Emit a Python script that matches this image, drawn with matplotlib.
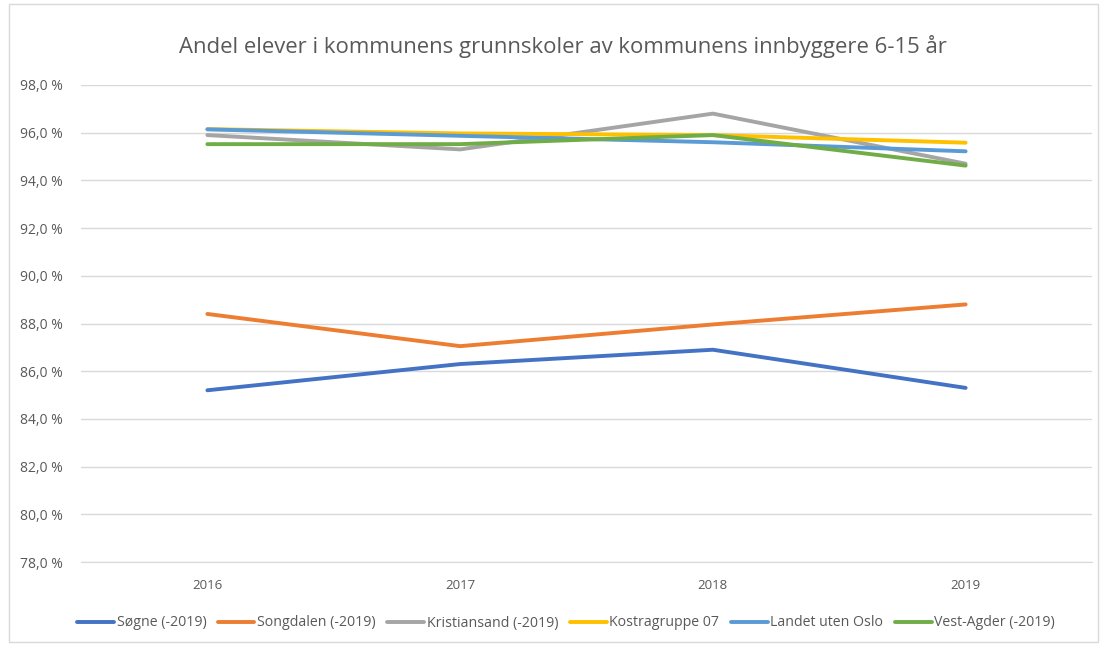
import matplotlib
matplotlib.use("Agg")
import matplotlib.pyplot as plt
from matplotlib.ticker import FuncFormatter
from matplotlib.patches import Rectangle

years = ["2016", "2017", "2018", "2019"]
sogne = [85.2, 86.3, 86.9, 85.3]
songdalen = [88.4, 87.05, 87.96, 88.8]
kristiansand = [95.9, 95.3, 96.8, 94.7]
kostra07 = [96.15, 95.97, 95.9, 95.58]
landet = [96.14, 95.87, 95.6, 95.22]
vestagder = [95.52, 95.52, 95.9, 94.62]

series = [
    ("Søgne (-2019)", sogne, "#4472C4"),
    ("Songdalen (-2019)", songdalen, "#ED7D31"),
    ("Kristiansand (-2019)", kristiansand, "#A5A5A5"),
    ("Kostragruppe 07", kostra07, "#FFC000"),
    ("Landet uten Oslo", landet, "#5B9BD5"),
    ("Vest-Agder (-2019)", vestagder, "#70AD47"),
]

plt.rcParams['font.family'] = ['Open Sans', 'DejaVu Sans']

W, H = 1106, 646
fig = plt.figure(figsize=(W / 100, H / 100), dpi=100)
fig.patches.append(Rectangle((9 / W, 4 / H), (1098 - 9) / W, (642 - 4) / H,
                             transform=fig.transFigure, fill=False,
                             edgecolor="#d9d9d9", linewidth=1))

left, right, top, bottom = 81, 1092, 85, 562
ax = fig.add_axes([left / W, 1 - bottom / H, (right - left) / W, (bottom - top) / H])

x = list(range(len(years)))
for name, vals, col in series:
    ax.plot(x, vals, color=col, linewidth=2.8, label=name, solid_capstyle="round")

ax.set_xlim(-0.5, len(years) - 0.5)
ax.set_ylim(78, 98)
ax.set_yticks([78 + 2 * i for i in range(11)])
ax.yaxis.set_major_formatter(FuncFormatter(lambda v, p: f"{v:.1f}".replace(".", ",") + " %"))
ax.set_xticks(x)
ax.set_xticklabels(years)
ax.grid(axis="y", color="#d9d9d9", linewidth=1)
ax.set_axisbelow(True)
for s in ["top", "right", "left"]:
    ax.spines[s].set_visible(False)
ax.spines["bottom"].set_color("#d9d9d9")
ax.tick_params(axis="both", length=0, colors="#595959")
ax.tick_params(axis="y", pad=13, labelsize=10)
ax.tick_params(axis="x", pad=12, labelsize=9.5)

fig.text(563 / W, 1 - 47 / H, "Andel elever i kommunens grunnskoler av kommunens innbyggere 6-15 år",
         ha="center", va="center", fontsize=15.9, color="#595959")

leg = fig.legend(loc="center", bbox_to_anchor=(566 / W, 1 - 623 / H), ncol=6, frameon=False,
                 fontsize=10.2, handlelength=2.6, handletextpad=0.2, columnspacing=0.8,
                 labelcolor="#595959")

fig.savefig("out.png", dpi=100, facecolor="white")
